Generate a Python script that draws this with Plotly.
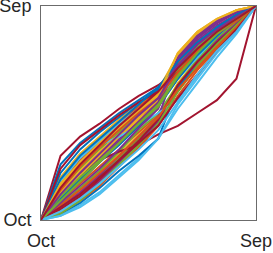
import plotly.graph_objects as go

months = ["Oct", "Nov", "Dec", "Jan", "Feb", "Mar", "Apr", "May", "Jun", "Jul", "Aug", "Sep"]
tick_labels = ["Oct", "Sep"]

# cumulative fraction (%) reached by each month, one list per year
s01 = [0, 8, 18, 27, 36, 45, 53, 66, 77, 86, 94, 100]
s02 = [0, 12, 22, 31, 40, 48, 55, 70, 80, 88, 95, 100]
s03 = [0, 6, 14, 22, 31, 40, 48, 64, 75, 84, 92, 100]
s04 = [0, 10, 20, 29, 38, 46, 54, 74, 84, 91, 96, 100]
s05 = [0, 5, 12, 20, 29, 38, 47, 60, 72, 82, 91, 100]
s06 = [0, 15, 25, 34, 42, 50, 57, 68, 79, 87, 94, 100]
s07 = [0, 30, 39, 45, 52, 58, 63, 70, 78, 86, 94, 100]
s08 = [0, 26, 36, 43, 50, 56, 62, 72, 81, 89, 95, 100]
s09 = [0, 9, 17, 25, 33, 41, 49, 62, 73, 83, 91, 100]
s10 = [0, 20, 31, 39, 47, 54, 61, 77, 87, 93, 98, 100]
s11 = [0, 4, 10, 18, 27, 36, 46, 62, 74, 84, 92, 100]
s12 = [0, 7, 15, 23, 32, 42, 50, 63, 75, 85, 93, 100]
s13 = [0, 2, 7, 13, 21, 29, 38, 52, 64, 76, 87, 100]
s14 = [0, 8, 20, 28, 32, 35, 40, 44, 50, 56, 66, 100]
s15 = [0, 3, 8, 15, 23, 30, 38, 62, 72, 82, 90, 100]
s16 = [0, 17, 28, 37, 45, 53, 60, 73, 83, 90, 96, 100]
s17 = [0, 11, 21, 30, 39, 47, 54, 67, 78, 87, 94, 100]
s18 = [0, 6, 13, 21, 30, 39, 48, 74, 85, 92, 97, 100]
s19 = [0, 14, 24, 33, 41, 49, 56, 70, 81, 89, 95, 100]
s20 = [0, 12, 27, 35, 39, 44, 50, 56, 67, 80, 90, 100]
s21 = [0, 5, 11, 19, 28, 37, 47, 63, 74, 83, 91, 100]
s22 = [0, 22, 33, 41, 48, 55, 61, 72, 82, 90, 96, 100]
s23 = [0, 4, 9, 16, 25, 34, 44, 58, 70, 80, 89, 100]
s24 = [0, 13, 23, 32, 40, 48, 56, 77, 87, 93, 98, 100]
s25 = [0, 9, 19, 28, 37, 46, 55, 76, 86, 92, 97, 100]
s26 = [0, 3, 9, 17, 26, 35, 45, 60, 72, 82, 91, 100]
s27 = [0, 18, 29, 37, 45, 52, 58, 66, 76, 86, 94, 100]
s28 = [0, 24, 35, 42, 49, 55, 60, 69, 78, 87, 95, 100]
s29 = [0, 10, 19, 27, 35, 44, 53, 66, 77, 86, 94, 100]
s30 = [0, 7, 14, 22, 30, 39, 48, 61, 71, 81, 90, 100]
s31 = [0, 16, 26, 35, 43, 51, 58, 78, 88, 94, 98, 100]
s32 = [0, 8, 16, 24, 33, 43, 52, 75, 86, 93, 97, 100]
s33 = [0, 11, 20, 28, 36, 45, 54, 68, 79, 88, 95, 100]
s34 = [0, 2, 6, 12, 20, 28, 38, 54, 66, 78, 88, 100]
s35 = [0, 6, 12, 20, 28, 36, 44, 57, 68, 79, 89, 100]
s36 = [0, 19, 30, 38, 46, 54, 62, 74, 83, 90, 96, 100]
s37 = [0, 14, 25, 34, 42, 50, 57, 69, 79, 87, 93, 100]
s38 = [0, 17, 27, 36, 44, 52, 59, 78, 88, 94, 98, 100]
s39 = [0, 12, 22, 31, 40, 49, 57, 72, 82, 89, 95, 100]
s40 = [0, 9, 18, 27, 36, 45, 53, 67, 78, 87, 94, 100]
s41 = [0, 4, 10, 17, 25, 33, 42, 55, 68, 79, 88, 100]
s42 = [0, 15, 26, 35, 44, 52, 60, 71, 80, 88, 94, 100]

series = [s01, s02, s03, s04, s05, s06, s07, s08, s09, s10, s11, s12, s13, s14,
          s15, s16, s17, s18, s19, s20, s21, s22, s23, s24, s25, s26, s27, s28,
          s29, s30, s31, s32, s33, s34, s35, s36, s37, s38, s39, s40, s41, s42]

palette = ["#0072BD", "#D95319", "#EDB120", "#7E2F8E", "#77AC30", "#4DBEEE", "#A2142F"]

fig = go.Figure()
x = list(range(len(months)))
for i, s in enumerate(series):
    fig.add_trace(go.Scatter(x=x, y=s, mode="lines",
                             line=dict(color=palette[i % len(palette)], width=2),
                             showlegend=False, hoverinfo="skip"))

axis_common = dict(showgrid=False, zeroline=False, showline=True, mirror=True,
                   linecolor="#6b6b6b", linewidth=1, ticks="",
                   ticklabeloverflow="allow", automargin=False,
                   tickfont=dict(family="Liberation Sans, Arial, sans-serif", size=18, color="#262626"))

fig.update_xaxes(range=[0, len(months) - 1], tickvals=[0, len(months) - 1],
                 ticktext=tick_labels, ticklabelstandoff=4, **axis_common)
fig.update_yaxes(range=[0, 100], tickvals=[0, 100], ticktext=tick_labels,
                 ticklabelstandoff=5, **axis_common)

fig.update_layout(width=273, height=253, margin=dict(l=41, r=17, t=6, b=33, autoexpand=False),
                  plot_bgcolor="white", paper_bgcolor="white")

fig.write_html("out.html", config={"displayModeBar": False},
               post_script="document.body.style.margin='0';document.body.style.overflow='hidden';")
